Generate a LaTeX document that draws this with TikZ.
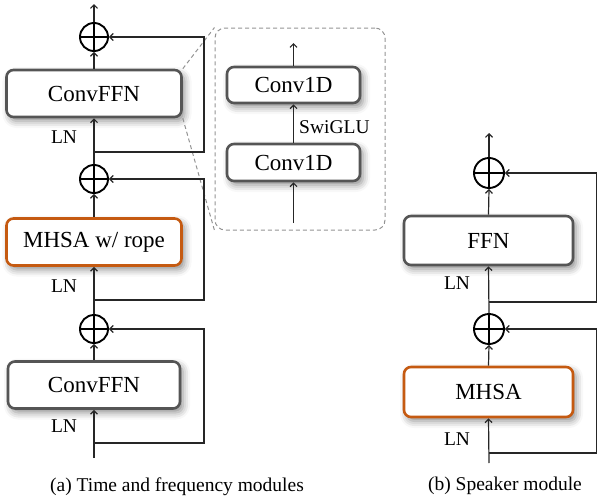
\documentclass[tikz,border=0pt]{standalone}
\usepackage{fontspec}
\setmainfont{Liberation Serif}
\usetikzlibrary{arrows.meta,shadows.blur,calc}
\definecolor{boxgray}{HTML}{555555}
\definecolor{orng}{HTML}{C55A11}
\begin{document}
\begin{tikzpicture}[x=1pt,y=-1pt,
  blk/.style={draw=boxgray, line width=2.6pt, rounded corners=7pt, fill=white,
    minimum width=175pt, minimum height=47pt, inner sep=0pt,
    font=\fontsize{23}{27}\selectfont,
    blur shadow={shadow xshift=3pt, shadow yshift=-4pt, shadow blur radius=7pt, shadow opacity=45}},
  addop/.style={circle, draw=black, line width=1.9pt, minimum size=28pt, inner sep=0pt,
    path picture={\draw[line width=1.9pt] (path picture bounding box.north) -- (path picture bounding box.south)
      (path picture bounding box.west) -- (path picture bounding box.east);}},
  conn/.style={line width=1.2pt, draw=black!85, -{Straight Barb[length=3.5pt,width=7pt]}},
  lbl/.style={font=\fontsize{19.5}{23}\selectfont, inner sep=0pt},
  zoomline/.style={dash pattern=on 4pt off 3pt, draw=gray!85, line width=1pt}
]
\useasboundingbox (0,0) rectangle (598,501);

% ---------- left column ----------
\node[blk] (c1) at (94,93.5) {ConvFFN};
\node[blk, draw=orng] (m1) at (94,242) {MHSA w/ rope};
\node[blk, minimum width=172pt] (c2) at (94,385) {ConvFFN};
\node[addop] (p1) at (94,37) {};
\node[addop] (p2) at (94,179) {};
\node[addop] (p3) at (94,329) {};
\coordinate (in1) at (94,458);
\coordinate (out1) at (94,4);
\coordinate (s3) at (94,443);
\coordinate (s2) at (94,300);
\coordinate (s1) at (94,152);
\coordinate (r1) at (204,0);

% zoom box
\node[zoomline, rounded corners=10pt, minimum width=170pt, minimum height=202pt] (zb) at (300,129) {};
\draw[zoomline] (c1.north east) -- (zb.north west);
\draw[zoomline] (c1.south east) -- (zb.south west);

\draw[conn] (in1) -- (c2.south);
\draw[conn] (s3) -| (r1 |- p3) -- (p3);
\draw[conn] (c2.north) -- (p3.south);
\draw[conn] (p3.north) -- (m1.south);
\draw[conn] (s2) -| (r1 |- p2) -- (p2);
\draw[conn] (m1.north) -- (p2.south);
\draw[conn] (p2.north) -- (c1.south);
\draw[conn] (s1) -| (r1 |- p1) -- (p1);
\draw[conn] (c1.north) -- (p1.south);
\draw[conn] (p1.north) -- (out1);

\node[lbl] (ln1) at (64,137) {LN};
\node[lbl] (ln2) at (64,286) {LN};
\node[lbl] (ln3) at (64,426) {LN};

% zoom box content
\node[blk, minimum width=133pt, minimum height=36pt] (d1) at (293.5,85) {Conv1D};
\node[blk, minimum width=133pt, minimum height=37pt] (d2) at (293.5,162.5) {Conv1D};
\coordinate (zin) at (293.5,223);
\coordinate (zout) at (293.5,43);
\draw[conn] (zin) -- (d2.south);
\draw[conn] (d2.north) -- (d1.south);
\draw[conn] (d1.north) -- (zout);
\node[lbl, anchor=west] (sw) at (299,127) {SwiGLU};

% ---------- right column ----------
\node[blk, minimum width=169pt, minimum height=49pt] (ffn) at (488.5,240.5) {FFN};
\node[blk, draw=orng, minimum width=169pt, minimum height=50pt] (mh) at (488.5,392) {MHSA};
\node[addop, minimum size=30pt] (q1) at (489,173) {};
\node[addop, minimum size=30pt] (q2) at (489,329) {};
\coordinate (in2) at (489,463);
\coordinate (t2) at (489,453);
\coordinate (u2) at (489,302);
\coordinate (out2) at (489,133);
\coordinate (r2) at (596.8,0);

\draw[conn] (in2) -- (mh.south);
\draw[conn] (t2) -| (r2 |- q2) -- (q2);
\draw[conn] (mh.north) -- (q2.south);
\draw[conn] (q2.north) -- (ffn.south);
\draw[conn] (u2) -| (r2 |- q1) -- (q1);
\draw[conn] (ffn.north) -- (q1.south);
\draw[conn] (q1.north) -- (out2);

\node[lbl] (ln4) at (457,283) {LN};
\node[lbl] (ln5) at (457,439) {LN};

% captions
\node[lbl] (capa) at (177,487) {(a) Time and frequency modules};
\node[lbl] (capb) at (505,486) {(b) Speaker module};
\end{tikzpicture}
\end{document}
